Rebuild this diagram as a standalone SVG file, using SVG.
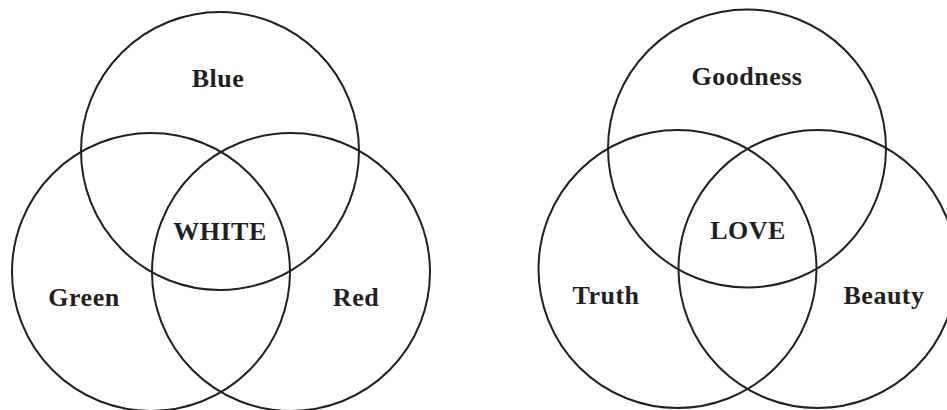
<svg xmlns="http://www.w3.org/2000/svg" width="947" height="410" viewBox="0 0 947 410">
<style>
.c{fill:none;stroke:#231f20;stroke-width:2}
.t{font-family:"Liberation Serif","Times New Roman",serif;font-weight:bold;font-size:26px;fill:#231f20;text-anchor:middle;letter-spacing:0.5px}
</style>
<rect width="947" height="410" fill="#ffffff"/>
<g id="colors">
<g id="blue"><circle class="c" cx="220" cy="151" r="139"/><text class="t" x="218" y="87">Blue</text></g>
<g id="green"><circle class="c" cx="151" cy="272" r="139"/><text class="t" x="84" y="306">Green</text></g>
<g id="red"><circle class="c" cx="291" cy="272" r="139"/><text class="t" x="356" y="306">Red</text></g>
<g id="white"><text class="t" x="220" y="240">WHITE</text></g>
</g>
<g id="virtues">
<g id="goodness"><circle class="c" cx="747" cy="148.5" r="139"/><text class="t" x="747" y="85">Goodness</text></g>
<g id="truth"><circle class="c" cx="677.5" cy="269" r="139"/><text class="t" x="606" y="304">Truth</text></g>
<g id="beauty"><circle class="c" cx="817.5" cy="269" r="139"/><text class="t" x="884" y="304">Beauty</text></g>
<g id="love"><text class="t" x="748" y="239">LOVE</text></g>
</g>
</svg>
